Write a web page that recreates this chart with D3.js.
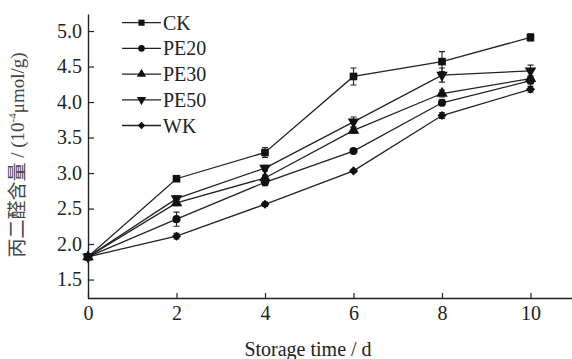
<!DOCTYPE html>
<html><head><meta charset="utf-8">
<script src="https://cdn.jsdelivr.net/npm/d3@7"></script>
<style>body{margin:0;background:#fff}svg{display:block}
text{font-family:"Liberation Serif","DejaVu Serif","Times New Roman",serif}
</style>
</head><body><svg id="c" width="572" height="359"></svg>
<script>
const days = [0, 2, 4, 6, 8, 10];
const seriesNames = ["CK", "PE20", "PE30", "PE50", "WK"];
const CK   = [1.82, 2.92, 3.29, 4.36, 4.57, 4.91];
const PE20 = [1.82, 2.35, 2.87, 3.31, 3.99, 4.30];
const PE30 = [1.82, 2.58, 2.93, 3.60, 4.12, 4.33];
const PE50 = [1.82, 2.64, 3.07, 3.72, 4.38, 4.44];
const WK   = [1.82, 2.11, 2.56, 3.03, 3.81, 4.18];
const CK_err   = [0.03, 0.03, 0.07, 0.12, 0.14, 0.05];
const PE20_err = [0.03, 0.10, 0.05, 0.03, 0.04, 0.04];
const PE30_err = [0.03, 0.04, 0.04, 0.04, 0.05, 0.04];
const PE50_err = [0.03, 0.04, 0.04, 0.07, 0.10, 0.08];
const WK_err   = [0.03, 0.04, 0.03, 0.02, 0.04, 0.04];
const yTicks = [1.5, 2.0, 2.5, 3.0, 3.5, 4.0, 4.5, 5.0];
const xTicks = [0, 2, 4, 6, 8, 10];

const values = [CK, PE20, PE30, PE50, WK];
const errs = [CK_err, PE20_err, PE30_err, PE50_err, WK_err];
const symbols = [d3.symbolSquare, d3.symbolCircle, d3.symbolTriangle, d3.symbolTriangle, d3.symbolSquare];
const rotations = [0, 0, 0, 180, 45];
const sizes = [58, 52, 58, 58, 42];

const svg = d3.select("#c");
const font = "Liberation Serif";
const ink = "#222";

const x = d3.scaleLinear().domain([0, 10]).range([88, 530.5]);
const xEnd = 572;
const y = d3.scaleLinear().domain([1.24, 5.24]).range([298, 14]);

// axes
const gx = svg.append("g").attr("transform", "translate(0,298)")
  .call(d3.axisBottom(x).tickValues(xTicks).tickFormat(d3.format("d")).tickSize(-5).tickSizeOuter(0).tickPadding(8));
gx.select(".domain").attr("d", `M88,0.5H${xEnd}`);
const gy = svg.append("g").attr("transform", "translate(88,0)")
  .call(d3.axisLeft(y).tickValues(yTicks).tickFormat(d3.format(".1f")).tickSize(-6).tickSizeOuter(0).tickPadding(6));
[gx, gy].forEach(g => {
  g.attr("font-family", null).attr("font-size", null);
  g.selectAll(".domain").attr("stroke", ink).attr("stroke-width", 1.4);
  g.selectAll(".tick line").attr("stroke", ink).attr("stroke-width", 1.2);
  g.selectAll("text").style("font-family", font).attr("font-size", 20).attr("fill", "#222");
});

// lines
const line = d3.line().x((d, i) => x(days[i])).y(d => y(d));
values.forEach((vals, s) => {
  svg.append("path").attr("d", line(vals)).attr("fill", "none").attr("stroke", ink).attr("stroke-width", 1.3);
});
// error bars and markers
values.forEach((vals, s) => {
  const g = svg.append("g");
  vals.forEach((v, i) => {
    const cx = x(days[i]), e = errs[s][i];
    const y1 = y(v + e), y2 = y(v - e);
    g.append("path").attr("d", `M${cx},${y1}V${y2}M${cx-3},${y1}H${cx+3}M${cx-3},${y2}H${cx+3}`)
      .attr("stroke", ink).attr("stroke-width", 1.1).attr("fill", "none");
    g.append("path").attr("d", d3.symbol().type(symbols[s]).size(sizes[s])())
      .attr("transform", `translate(${cx},${y(v)}) rotate(${rotations[s]})`)
      .attr("fill", "#111");
  });
});

// legend
const legend = svg.append("g");
seriesNames.forEach((name, s) => {
  const ly = 22.7 + s * 25.7;
  legend.append("line").attr("x1", 122).attr("x2", 161).attr("y1", ly).attr("y2", ly)
    .attr("stroke", ink).attr("stroke-width", 1.3);
  legend.append("path").attr("d", d3.symbol().type(symbols[s]).size(sizes[s] * 0.65)())
    .attr("transform", `translate(141.5,${ly}) rotate(${rotations[s]})`).attr("fill", "#111");
  legend.append("text").attr("x", 163).attr("y", ly).attr("dy", "0.35em")
    .style("font-family", font).attr("font-size", 20).attr("fill", "#222").text(name);
});

// axis titles
svg.append("text").attr("x", 308).attr("y", 356).attr("text-anchor", "middle")
  .style("font-family", font).attr("font-size", 20).attr("fill", "#222").text("Storage time / d");
const yt = svg.append("text").attr("transform", "translate(24,155) rotate(-90)").attr("text-anchor", "middle")
  .style("font-family", "'Liberation Serif','Noto Sans CJK SC',serif").attr("font-size", 19).attr("fill", "#444");
yt.append("tspan").text("丙二醛含量 / (10");
yt.append("tspan").attr("font-size", 11).attr("dy", -8).text("-4");
yt.append("tspan").attr("dy", 8).text("μmol/g)");
</script>
</body></html>
